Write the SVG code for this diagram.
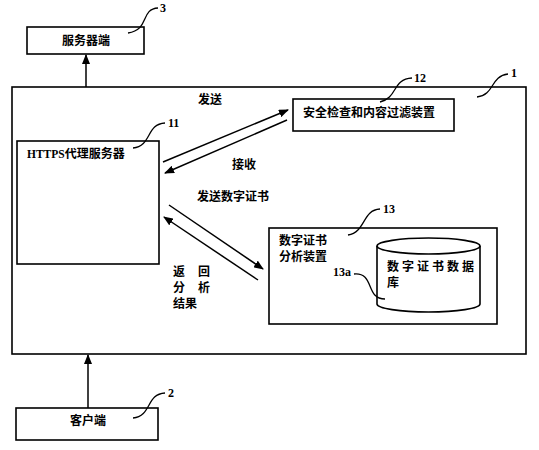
<svg xmlns="http://www.w3.org/2000/svg" width="539" height="450" viewBox="0 0 539 450">
<style>
.box{fill:none;stroke:#000;stroke-width:1.6}
.ln{fill:none;stroke:#000;stroke-width:1.5}
.ld{fill:none;stroke:#000;stroke-width:1.3}
.t{font-family:"Noto Sans CJK SC","Noto Sans",sans-serif;font-size:12px;font-weight:bold;fill:#000}
.n{font-family:"Liberation Serif",serif;font-size:12px;font-weight:bold;fill:#000}
</style>
<defs>
<marker id="ah" markerWidth="10" markerHeight="8" refX="9" refY="4" orient="auto" markerUnits="userSpaceOnUse">
<path d="M0,0 L10,4 L0,8 Z" fill="#000"/>
</marker>
</defs>
<rect width="539" height="450" fill="#fff"/>
<g id="node1">
<rect class="box" x="12" y="87" width="514" height="267"/>
<path class="ld" d="M477,97 C495,95 490,76 508,74"/>
<text class="n" x="511" y="77">1</text>
</g>
<g id="node3">
<rect class="box" x="27" y="27" width="117" height="27"/>
<text class="t" x="86" y="45" text-anchor="middle">服务器端</text>
<path class="ld" d="M128,33 C150,30 140,9 158,8"/>
<text class="n" x="160" y="12">3</text>
</g>
<g id="node12">
<rect class="box" x="293" y="99" width="161" height="32"/>
<text class="t" x="303" y="117">安全检查和内容过滤装置</text>
<path class="ld" d="M380,102 C398,98 392,79 412,78"/>
<text class="n" x="414" y="82">12</text>
</g>
<g id="node11">
<rect class="box" x="17" y="141" width="142" height="123"/>
<text class="t" x="27" y="158"><tspan font-family="Liberation Serif,serif" font-size="11.5">HTTPS</tspan>代理服务器</text>
<path class="ld" d="M133,148 C152,146 146,124 165,123"/>
<text class="n" x="168" y="127">11</text>
</g>
<g id="node13">
<rect class="box" x="269" y="228" width="228" height="96"/>
<text class="t" x="279" y="245" font-size="11.5">数字证书</text>
<text class="t" x="279" y="261" font-size="11.5">分析装置</text>
<path class="ld" d="M348,235 C366,232 362,210 380,209"/>
<text class="n" x="383" y="213">13</text>
</g>
<g id="node13a">
<path class="box" d="M377,246 L377,304 A51.5,8 0 0 0 480,304 L480,246"/>
<ellipse class="box" cx="428.5" cy="246" rx="51.5" ry="8"/>
<text class="t" x="387" y="271" letter-spacing="3">数字证书数据</text>
<text class="t" x="387" y="287">库</text>
<path class="ld" d="M354,274 C375,272 365,299 385,299"/>
<text class="n" x="333" y="276">13a</text>
</g>
<g id="node2">
<rect class="box" x="16" y="408" width="142" height="32"/>
<text class="t" x="88" y="425" text-anchor="middle">客户端</text>
<path class="ld" d="M133,418 C152,416 146,394 165,393"/>
<text class="n" x="168" y="397">2</text>
</g>
<g id="connectors">
<line class="ln" x1="86" y1="87" x2="86" y2="55" marker-end="url(#ah)"/>
<line class="ln" x1="88" y1="408" x2="88" y2="355" marker-end="url(#ah)"/>
<line class="ln" x1="163" y1="162" x2="288" y2="110" marker-end="url(#ah)"/>
<line class="ln" x1="287" y1="120" x2="165" y2="173" marker-end="url(#ah)"/>
<line class="ln" x1="169" y1="205" x2="263" y2="269" marker-end="url(#ah)"/>
<line class="ln" x1="258" y1="280" x2="164" y2="217" marker-end="url(#ah)"/>
<text class="t" x="198" y="104">发送</text>
<text class="t" x="232" y="169">接收</text>
<text class="t" x="197" y="201">发送数字证书</text>
<text class="t" x="173" y="276" letter-spacing="13">返回</text>
<text class="t" x="173" y="292" letter-spacing="13">分析</text>
<text class="t" x="173" y="308">结果</text>
</g>
</svg>
